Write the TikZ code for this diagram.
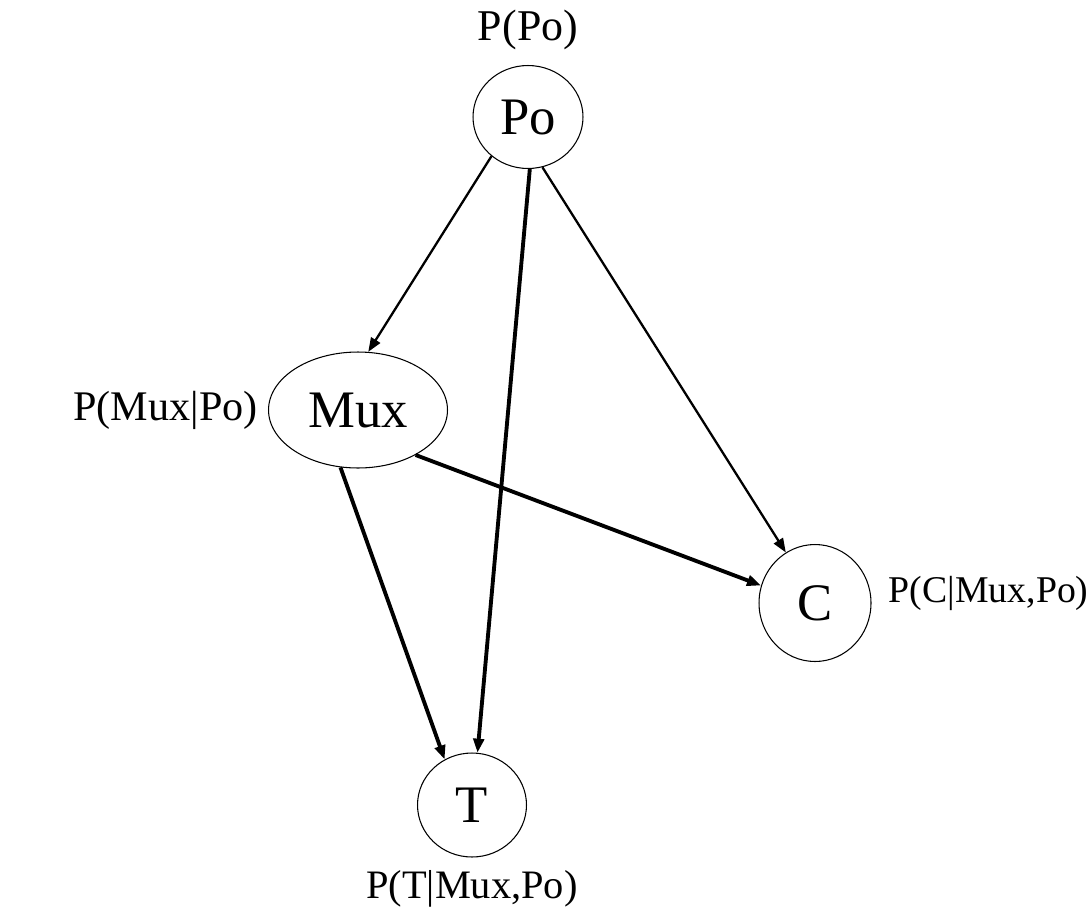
\documentclass[tikz,border=0pt]{standalone}
\usepackage{fontspec}
\setmainfont{Liberation Serif}
\usepackage{tikz}
\usetikzlibrary{shapes.geometric,arrows.meta,positioning}

\begin{document}
\begin{tikzpicture}[x=0.02cm, y=-0.02cm,
        var/.style={draw, ellipse, inner sep=0pt, line width=0.6pt, font=\fontsize{30}{35}\selectfont},
        prob/.style={inner sep=0pt, font=\fontsize{23}{27}\selectfont},
        >={Triangle[length=8pt,width=6pt]},
        thin edge/.style={->, line width=1.3pt},
        thick edge/.style={->, line width=2.2pt}]
        \useasboundingbox (0,0) rectangle (1091,906);
        \node[var, minimum width=2.2cm, minimum height=2.06cm] (Po) at (528,117) {Po};
        \node[var, minimum width=3.58cm, minimum height=2.32cm] (Mux) at (358,410) {Mux};
        \node[var, minimum width=2.24cm, minimum height=2.34cm] (C) at (815,603) {C};
        \node[var, minimum width=2.18cm, minimum height=2.08cm] (T) at (472,805) {T};
        \node[prob, font=\fontsize{25}{29}\selectfont] (pPo) [above=0.3cm of Po] {P(Po)};
        \node[prob, font=\fontsize{24}{28}\selectfont] (pMux) [left=0.2cm of Mux] {P(Mux|Po)};
        \node[prob, font=\fontsize{21.5}{26}\selectfont] (pC) [right=0.34cm of C, yshift=0.2cm] {P(C|Mux,Po)};
        \node[prob] (pT) [below=0.25cm of T] {P(T|Mux,Po)};
        \draw[thin edge] (Po.227) -- (Mux.80);
        \draw[thick edge] (Po.272) -- (T.84);
        \draw[thin edge] (Po.286) -- (C.120);
        \draw[thick edge] (Mux.322) -- (C.162);
        \draw[thick edge] (Mux.253) -- (T.121);
  \end{tikzpicture}
\end{document}
